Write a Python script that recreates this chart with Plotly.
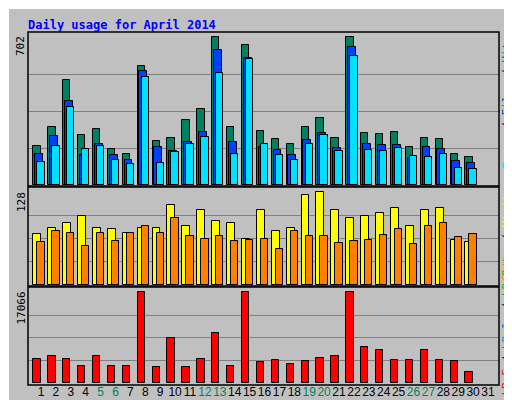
import plotly.graph_objects as go

days = list(range(1, 32))
hits = [183, 274, 497, 239, 264, 169, 146, 563, 207, 221, 307, 359, 700, 274, 663,
        255, 217, 193, 274, 316, 221, 700, 245, 240, 250, 179, 221, 217, 146, 131]
files = [147, 231, 397, 141, 193, 141, 117, 539, 179, 160, 202, 250, 639, 202, 601,
         179, 165, 141, 212, 245, 174, 653, 193, 188, 188, 127, 179, 169, 112, 103]
pages = [108, 183, 369, 169, 183, 117, 98, 511, 103, 155, 193, 226, 530, 146, 596,
         193, 141, 117, 193, 236, 160, 610, 165, 160, 174, 136, 131, 146, 79, 74]
visits = [71, 79, 86, 96, 79, 78, 72, 79, 79, 110, 82, 103, 89, 85, 64,
          104, 75, 79, 124, 128, 104, 93, 95, 100, 107, 82, 104, 106, 62, 60]
sites = [60, 74, 72, 54, 72, 61, 72, 82, 72, 93, 68, 64, 68, 61, 62,
         64, 50, 74, 68, 68, 58, 61, 62, 69, 78, 57, 82, 85, 66, 71]
kbytes = [4500, 5063, 4500, 3188, 5063, 3188, 3188, 17066, 3000, 8440, 3000, 4500, 9377, 3188, 17066,
          3938, 4313, 3563, 4126, 4688, 5063, 17066, 6751, 6189, 4313, 4313, 6189, 4313, 4126, 2063]
weekends = [5, 6, 12, 13, 19, 20, 26, 27]
max_hits, max_visits, max_kb = 702, 128, 17066

W, H = 512, 400


def py(px):
    return 1 - px / H


def shifted(off, n):
    return [d + off for d in days[:n]]


line = dict(color="black", width=1)
fig = go.Figure()
fig.add_trace(go.Bar(x=shifted(-0.27, 30), y=hits, width=0.49, marker=dict(color="#008060", line=line), yaxis="y"))
fig.add_trace(go.Bar(x=shifted(-0.13, 30), y=files, width=0.53, marker=dict(color="#0040FF", line=line), yaxis="y"))
fig.add_trace(go.Bar(x=shifted(0, 30), y=pages, width=0.49, marker=dict(color="#00E0FF", line=line), yaxis="y"))
fig.add_trace(go.Bar(x=shifted(-0.25, 30), y=visits, width=0.53, marker=dict(color="#FFFF00", line=line), yaxis="y2"))
fig.add_trace(go.Bar(x=shifted(0, 30), y=sites, width=0.49, marker=dict(color="#FF8000", line=line), yaxis="y2"))
fig.add_trace(go.Bar(x=shifted(-0.27, 30), y=kbytes, width=0.49, marker=dict(color="#FF0000", line=line), yaxis="y3"))

ticktext = [f"<span style='color:#00805A'>{d}</span>" if d in weekends else str(d) for d in days]
xr = [1 - 13 / 14.9, 1 + 458 / 14.9]
grid = dict(showgrid=True, gridcolor="#808080", gridwidth=1, showticklabels=False,
            zeroline=False, showline=False, fixedrange=True)

fig.update_layout(
    width=W, height=H, margin=dict(l=0, r=0, t=0, b=0, autoexpand=False),
    paper_bgcolor="#C0C0C0", plot_bgcolor="#C0C0C0",
    barmode="overlay", showlegend=False, bargap=0,
    font=dict(family="Liberation Sans", size=12, color="black"),
    xaxis=dict(domain=[20 / W, 491 / W], range=xr, tickvals=days, ticktext=ticktext,
               tickangle=0, automargin=False, showgrid=False, zeroline=False,
               anchor="y3", ticks="", ticklen=0, tickfont=dict(size=12)),
    yaxis=dict(domain=[py(177), py(25)], range=[0, 721], tickvals=[175.5, 351, 526.5], **grid),
    yaxis2=dict(domain=[py(277), py(180)], range=[0, 134], tickvals=[32, 64, 96], **grid),
    yaxis3=dict(domain=[py(375.3), py(280)], range=[0, 17873], tickvals=[4266, 8533, 12800], **grid),
)

shapes = [
    dict(type="rect", xref="paper", yref="paper", x0=0, x1=1, y0=0, y1=1,
         line=dict(color="white", width=2), layer="below"),
    dict(type="line", xref="paper", yref="paper", x0=508 / W, x1=508 / W, y0=0, y1=1,
         line=dict(color="#808080", width=7), layer="below"),
    dict(type="line", xref="paper", yref="paper", x0=0, x1=1, y0=py(397.5), y1=py(397.5),
         line=dict(color="#808080", width=5), layer="below"),
]
for top, bot in [(24, 178), (179, 278), (279, 377)]:
    shapes.append(dict(type="rect", xref="paper", yref="paper", x0=20 / W, x1=491 / W,
                       y0=py(bot), y1=py(top), line=dict(color="black", width=1.5)))
fig.update_layout(shapes=shapes)

mono = dict(family="DejaVu Sans Mono", size=11, color="black")
ann = [
    dict(text="<b>Daily usage for April 2014</b>", x=18 / W, y=py(8), xanchor="left", yanchor="top",
         font=dict(family="DejaVu Sans Mono", size=12, color="#0000FF")),
    dict(text=str(max_hits), x=13 / W, y=py(26), textangle=-90, xanchor="center", yanchor="top"),
    dict(text=str(max_visits), x=13 / W, y=py(182), textangle=-90, xanchor="center", yanchor="top"),
    dict(text=str(max_kb), x=13 / W, y=py(282), textangle=-90, xanchor="center", yanchor="top"),
    dict(text="<span style='color:#00E0FF'>Pages</span> / <span style='color:#0040FF'>Files</span>"
              " / <span style='color:#008060'>Hits</span>",
         x=498 / W, y=py(26), textangle=-90, xanchor="center", yanchor="top"),
    dict(text="<span style='color:#FF8000'>Sites</span> / <span style='color:#FFFF00'>Visits</span>",
         x=498 / W, y=py(178), textangle=-90, xanchor="center", yanchor="top"),
    dict(text="<span style='color:#FF0000'>kB F</span> / <span style='color:#0080FF'>kB In</span>"
              " / <span style='color:#00C000'>kB Out</span>",
         x=498 / W, y=py(390), textangle=-90, xanchor="center", yanchor="bottom"),
]
for a in ann:
    a.setdefault("font", mono)
    a.update(xref="paper", yref="paper", showarrow=False)
fig.update_layout(annotations=ann)

fig.write_html("out.html")
